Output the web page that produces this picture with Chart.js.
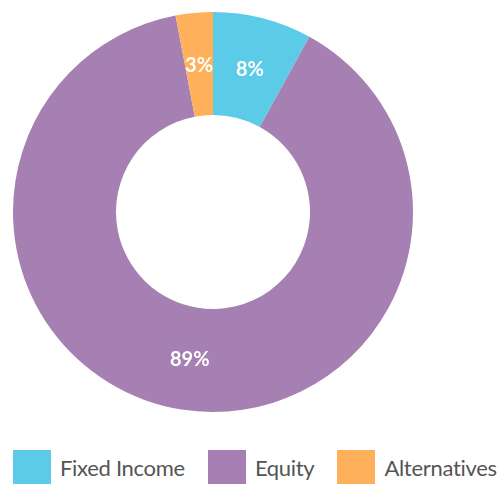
<!DOCTYPE html>
<html>
<head>
<meta charset="utf-8">
<script src="https://cdn.jsdelivr.net/npm/chart.js@4.4.1/dist/chart.umd.min.js"></script>
<style>
  html, body { margin: 0; padding: 0; background: #fff; }
  #wrap { position: relative; width: 497px; height: 485px; overflow: hidden; }
  #chartBox { position: absolute; left: 13px; top: 12px; width: 400px; height: 400px; }
  #legend { position: absolute; left: 13px; top: 450px; width: 520px; display: flex; white-space: nowrap; font-family: Lato, sans-serif; font-size: 22px; letter-spacing: -0.3px; color: #555; }
  .item { display: flex; align-items: center; margin-right: 23px; flex: none; }
  .box { width: 38px; height: 34px; margin-right: 9px; }
</style>
</head>
<body>
<div id="wrap">
  <div id="chartBox"><canvas id="pie"></canvas></div>
  <div id="legend"></div>
</div>
<script>
// dados
const labels = ['Fixed Income', 'Equity', 'Alternatives'];
const values = [8, 89, 3];
const colors = ['#5bcbe7', '#a680b2', '#ffb05a'];

// etiquetas de percentagem no anel
const pctLabels = {
  id: 'pctLabels',
  afterDatasetsDraw(chart) {
    const ctx = chart.ctx;
    const meta = chart.getDatasetMeta(0);
    ctx.save();
    ctx.fillStyle = '#fff';
    ctx.font = 'bold 20px Lato, sans-serif';
    ctx.textAlign = 'center';
    ctx.textBaseline = 'middle';
    meta.data.forEach((arc, i) => {
      const p = arc.getCenterPoint();
      ctx.fillText(values[i] + '%', p.x, p.y + 1);
    });
    ctx.restore();
  }
};

new Chart(document.getElementById('pie'), {
  type: 'doughnut',
  data: {
    labels: labels,
    datasets: [{
      data: values,
      backgroundColor: colors,
      borderWidth: 0
    }]
  },
  options: {
    responsive: true,
    maintainAspectRatio: false,
    animation: false,
    cutout: '48.5%',
    layout: { padding: 0 },
    plugins: {
      legend: { display: false },
      tooltip: { enabled: false }
    }
  },
  plugins: [pctLabels]
});

// legenda
const legend = document.getElementById('legend');
labels.forEach((l, i) => {
  legend.innerHTML += `<div class="item"><div class="box" style="background:${colors[i]}"></div><span>${l}</span></div>`;
});
</script>
</body>
</html>
